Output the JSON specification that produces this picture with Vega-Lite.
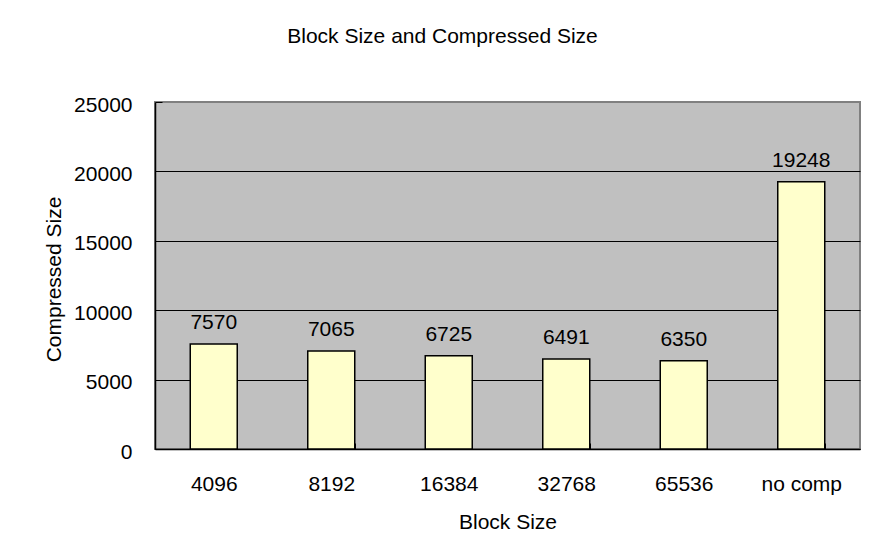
{
  "$schema": "https://vega.github.io/schema/vega-lite/v6.json",
  "width": 705,
  "height": 347,
  "autosize": {"type": "none"},
  "padding": {"left": 155, "top": 102, "right": 18, "bottom": 111},
  "background": "white",
  "title": {
    "text": "Block Size and Compressed Size",
    "anchor": "middle",
    "frame": "group",
    "dx": -65,
    "baseline": "alphabetic",
    "offset": 30,
    "fontSize": 21,
    "font": "Liberation Sans",
    "fontWeight": "normal",
    "color": "black"
  },
  "data": {
    "values": [
      {"block": "4096", "size": 7570},
      {"block": "8192", "size": 7065},
      {"block": "16384", "size": 6725},
      {"block": "32768", "size": 6491},
      {"block": "65536", "size": 6350},
      {"block": "no comp", "size": 19248}
    ]
  },
  "encoding": {
    "x": {
      "field": "block",
      "type": "nominal",
      "sort": null,
      "scale": {"paddingInner": 0.6, "paddingOuter": 0.3},
      "axis": {
        "title": "Block Size",
        "titleFont": "Liberation Sans",
        "titleFontSize": 21,
        "titleFontWeight": "normal",
        "titleColor": "black",
        "titleY": 79,
        "titleBaseline": "alphabetic",
        "labelAngle": 0,
        "labelBaseline": "alphabetic",
        "labelPadding": 47,
        "labelFont": "Liberation Sans",
        "labelFontSize": 21,
        "labelColor": "black",
        "ticks": true,
        "tickSize": -6,
        "tickBand": "extent",
        "tickColor": "black",
        "tickWidth": 1,
        "domainColor": "black",
        "domainWidth": 1.5,
        "grid": false
      }
    },
    "y": {
      "field": "size",
      "type": "quantitative",
      "scale": {"domain": [0, 25000], "nice": false},
      "axis": {
        "title": "Compressed Size",
        "titleFont": "Liberation Sans",
        "titleFontSize": 21,
        "titleFontWeight": "normal",
        "titleColor": "black",
        "titleAngle": 270,
        "titleX": -95,
        "titleY": 177,
        "titleAlign": "center",
        "titleBaseline": "alphabetic",
        "values": [0, 5000, 10000, 15000, 20000, 25000],
        "format": "d",
        "labelFont": "Liberation Sans",
        "labelFontSize": 21,
        "labelColor": "black",
        "labelPadding": 30,
        "labelOffset": 3,
        "ticks": true,
        "tickSize": -7,
        "tickColor": "black",
        "domainColor": "black",
        "domainWidth": 1.5,
        "grid": true,
        "gridColor": {"condition": {"test": "datum.value == 25000", "value": "transparent"}, "value": "black"},
        "gridWidth": 1
      }
    }
  },
  "layer": [
    {"mark": {"type": "bar", "fill": "#FFFFCC", "stroke": "black", "strokeWidth": 1.5}},
    {
      "mark": {"type": "text", "baseline": "alphabetic", "dy": -15, "fontSize": 21, "font": "Liberation Sans", "color": "black"},
      "encoding": {"text": {"field": "size", "type": "quantitative", "format": "d"}}
    }
  ],
  "config": {"view": {"fill": "#C0C0C0", "stroke": "#808080", "strokeWidth": 2}}
}
